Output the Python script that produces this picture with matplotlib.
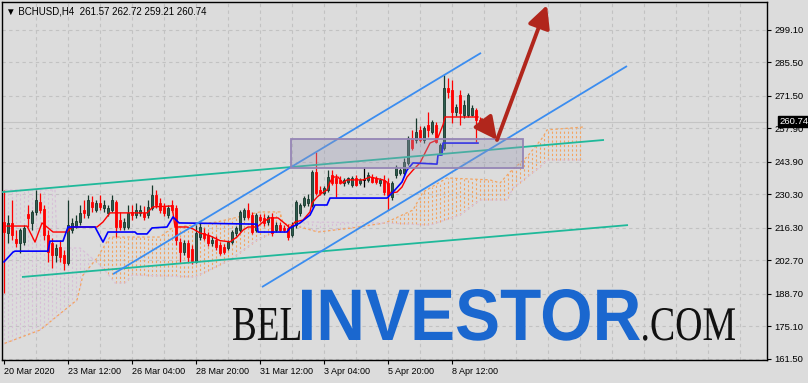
import numpy as np
import matplotlib
matplotlib.use("Agg")
import matplotlib.pyplot as plt
from matplotlib.patches import Rectangle, FancyArrowPatch, PathPatch
from matplotlib.textpath import TextPath
from matplotlib.font_manager import FontProperties
from matplotlib.transforms import Affine2D, IdentityTransform

# ---------------- data (H4 candles, BCHUSD) ----------------
opens = [218.8, 214.2, 218.4, 211.7, 210.0, 210.4, 222.1, 218.4, 223.0, 227.2,
         224.2, 213.3, 210.0, 205.0, 208.3, 205.0, 201.6, 215.4, 217.1, 218.8,
         223.8, 221.7, 227.2, 223.8, 226.7, 224.6, 222.6, 223.8, 227.2, 219.6,
         216.7, 216.7, 223.0, 221.7, 222.6, 222.6, 221.7, 224.6, 230.1, 226.7,
         225.1, 221.7, 225.9, 224.6, 210.4, 206.2, 210.0, 207.5, 202.1, 212.5,
         214.2, 213.3, 210.0, 211.3, 209.2, 208.3, 207.9, 210.4, 214.2, 215.4,
         220.9, 223.8, 221.7, 215.4, 220.9, 220.5, 218.8, 220.9, 215.4, 217.5,
         216.3, 216.3, 213.3, 217.5, 222.6, 225.9, 226.7, 225.9, 239.7, 232.2,
         230.9, 232.2, 238.5, 237.2, 236.4, 235.1, 235.5, 234.3, 237.2, 235.1,
         236.4, 236.4, 237.6, 237.2, 235.1, 236.4, 235.1, 229.2, 238.5, 239.3,
         239.3, 243.5, 253.9, 253.1, 257.3, 253.1, 259.4, 256.4, 259.4, 247.6,
         249.7, 274.8, 274.0, 264.8, 271.9, 263.5, 263.5, 263.5, 265.6, 261.57]
highs = [232.2, 221.7, 228.0, 215.4, 216.3, 217.5, 225.9, 223.8, 232.2, 230.9,
         225.9, 215.4, 212.1, 209.6, 211.3, 207.1, 228.0, 220.5, 221.7, 225.9,
         228.0, 230.1, 229.7, 228.0, 230.1, 228.0, 225.9, 230.1, 228.0, 223.0,
         220.5, 225.9, 225.9, 226.7, 225.9, 225.5, 228.0, 234.3, 232.2, 228.8,
         226.7, 225.9, 228.0, 225.9, 212.1, 211.3, 211.3, 209.2, 217.5, 218.8,
         216.3, 214.6, 212.9, 212.9, 210.4, 209.6, 211.3, 215.4, 217.1, 223.8,
         224.6, 226.7, 223.0, 222.6, 222.1, 222.1, 221.7, 222.6, 218.8, 218.8,
         217.5, 217.9, 218.8, 228.0, 226.7, 229.7, 230.5, 240.5, 248.1, 233.8,
         233.8, 240.5, 240.5, 238.9, 238.0, 237.2, 237.6, 238.0, 238.5, 237.2,
         241.8, 239.7, 238.9, 238.0, 237.2, 238.5, 237.2, 235.9, 242.6, 241.4,
         245.6, 254.7, 257.3, 262.3, 258.9, 258.9, 264.8, 261.5, 260.6, 251.8,
         280.3, 279.0, 278.2, 268.1, 274.0, 269.8, 272.7, 267.7, 266.5, 262.72]
lows = [189.1, 210.0, 211.3, 208.3, 205.8, 209.2, 216.7, 215.4, 221.7, 222.6,
        211.3, 202.1, 199.5, 202.1, 202.1, 198.7, 200.8, 214.2, 216.3, 217.5,
        220.5, 220.5, 223.0, 223.0, 223.8, 223.0, 221.3, 223.0, 212.5, 215.4,
        215.4, 215.9, 219.6, 220.5, 221.3, 219.6, 220.5, 223.8, 224.6, 222.6,
        221.3, 220.5, 223.0, 209.2, 202.1, 205.0, 202.1, 201.2, 201.6, 211.3,
        211.3, 208.8, 208.8, 207.1, 205.0, 205.4, 207.1, 209.6, 212.9, 214.6,
        219.6, 220.0, 213.8, 214.6, 218.8, 217.1, 217.5, 212.9, 214.6, 214.6,
        214.6, 211.3, 212.5, 216.3, 221.3, 225.1, 225.5, 225.1, 230.1, 230.1,
        230.1, 231.3, 234.3, 229.2, 234.7, 233.8, 234.7, 233.4, 233.8, 234.3,
        233.4, 235.5, 235.1, 234.7, 233.8, 230.1, 223.8, 228.0, 237.2, 238.5,
        238.5, 242.6, 248.9, 251.8, 252.2, 251.8, 254.3, 255.6, 251.8, 246.8,
        248.9, 270.6, 260.2, 263.1, 259.4, 262.3, 262.7, 263.1, 252.2, 259.21]
closes = [214.6, 218.4, 213.3, 210.0, 215.4, 216.3, 220.5, 223.0, 228.0, 223.8,
          213.3, 206.2, 205.0, 207.9, 204.2, 201.6, 217.5, 218.4, 219.2, 222.6,
          222.6, 228.0, 225.1, 226.7, 225.1, 225.9, 224.6, 228.0, 216.7, 216.7,
          218.8, 222.6, 221.7, 223.8, 223.8, 220.9, 225.1, 230.1, 225.9, 223.8,
          222.6, 224.6, 223.8, 211.3, 206.2, 210.0, 204.2, 202.5, 214.2, 216.7,
          212.1, 210.0, 211.3, 208.3, 205.8, 206.2, 210.4, 214.6, 216.3, 223.0,
          223.8, 220.9, 214.6, 221.7, 219.6, 218.4, 220.9, 214.2, 217.5, 215.4,
          215.4, 212.5, 217.5, 227.2, 225.9, 228.8, 228.4, 239.7, 230.9, 230.9,
          233.0, 237.6, 235.1, 235.1, 235.1, 236.4, 237.2, 237.2, 234.3, 236.4,
          236.4, 238.5, 235.5, 235.5, 236.4, 231.3, 230.1, 235.1, 241.8, 240.5,
          243.9, 253.9, 249.7, 256.4, 253.1, 258.1, 257.3, 260.6, 252.2, 251.0,
          274.8, 273.2, 264.8, 266.9, 264.4, 267.7, 271.9, 266.5, 261.5, 260.74]

# Ichimoku lines: (bar index, price)
tenkan_x = [0.75, 5.75, 7.75, 9.5, 10.75, 12.25, 15.75, 17, 23.25, 24.75, 26.5, 35.75, 37.25, 42,
            42.75, 45.75, 47.25, 49, 51.5, 54, 56.5, 58.25, 59.75, 61, 63.25, 64.75, 66.5, 68.5,
            69.75, 71.5, 72.75, 74.75, 76.5, 77, 78.25, 79.5, 80.75, 81.5, 82.25, 83.5, 84.75,
            85.75, 89.75, 91.5, 94.75, 95.75, 96.5, 98.25, 99.5, 100.75, 102.25, 104, 106.5,
            108.25, 109.75, 110.25, 118.5]
tenkan_y = [217.1, 217.1, 210.4, 218.4, 216.7, 214.6, 214.6, 216.7, 216.7, 218.8, 222.6, 222.6, 225.1, 225.5,
            216.7, 216.7, 215.9, 214.2, 213.0, 211.0, 210.5, 212.5, 215.4, 216.7, 216.7, 218.8, 220.5, 220.5,
            218.8, 216.3, 218.8, 219.6, 223.0, 226.7, 229.2, 230.9, 232.2, 235.5, 237.6, 237.6, 235.1,
            236.4, 236.4, 237.6, 236.4, 235.5, 230.9, 231.3, 233.4, 237.6, 240.5, 243.5, 251.8,
            253.1, 259.4, 262.7, 262.7]
kijun_x = [0, 2.25, 2.75, 11, 11.5, 14.75, 16, 22.75, 24.75, 26, 32.75, 33.25, 35.75, 37, 40.75, 42.25,
           43.75, 63.25, 63.5, 70.75, 71.5, 74, 76.5, 77.75, 80.75, 81.5, 95.75, 97.25, 99.5, 100.75,
           102.25, 108.25, 108.5, 109.5, 109.75, 118.5]
kijun_y = [202.1, 206.2, 206.6, 206.6, 210.8, 210.8, 216.7, 216.7, 210.4, 214.6, 214.6, 213.8, 213.8, 216.3,
           216.7, 220.9, 218.4, 217.9, 214.6, 214.6, 216.3, 218.4, 221.7, 225.9, 225.9, 228.8, 228.8, 231.3,
           235.5, 240.5, 243.5, 243.0, 246.8, 246.8, 251.8, 251.8]
span_a_x = [-1, 9, 18.25, 19.75, 23.25, 25.25, 26.5, 39, 42, 47, 53.25, 64, 69, 69.75, 74, 78.5, 87,
            95.25, 102.25, 104.75, 110.75, 121.5, 124, 126.5, 130.75, 134.75, 135.75, 144.75]
span_a_y = [167.3, 173.6, 186.2, 196.6, 203.7, 209.2, 212.5, 212.5, 216.3, 217.5, 218.8, 223.0, 223.0,
            218.4, 216.7, 214.6, 216.3, 218.4, 223.8, 231.3, 237.2, 236.4, 235.1, 239.7, 246.0, 254.3,
            257.3, 258.5]
span_b_x = [-1, 12.75, 13.25, 19, 24, 25.75, 27.75, 30.25, 32, 47.75, 56.5, 63.25, 71.5, 75.25, 95.25,
            106.5, 114, 119, 125.75, 127.25, 131.5, 134, 135.75, 144.75]
span_b_y = [232.2, 232.2, 207.9, 207.9, 200.8, 197.5, 193.3, 193.3, 196.6, 195.8, 202.9, 211.3, 217.5,
            218.8, 218.4, 217.5, 221.7, 228.0, 228.0, 233.0, 238.5, 241.8, 244.7, 244.7]

# drawn objects (bar index, price)
teal_upper = [(-0.5, 231.3), (150.0, 253.1)]
teal_lower = [(4.5, 195.8), (156.0, 217.5)]
blue_upper = [(27.25, 197.0), (119.25, 289.5)]
blue_lower = [(64.5, 191.6), (155.75, 284.0)]
zone = [(71.75, 241.4), (129.75, 253.5)]
arrow_down = [(119.5, 261.4), (123.25, 253.1)]
arrow_up = [(123.25, 253.1), (135.75, 309.5)]

price_ticks = [299.10, 285.50, 271.50, 257.90, 243.90, 230.30, 216.30, 202.70, 188.70, 175.10, 161.50]
time_tick_bars = [0, 16, 32, 48, 64, 80, 96, 112]
time_labels = ["20 Mar 2020", "23 Mar 12:00", "26 Mar 04:00", "28 Mar 20:00",
               "31 Mar 12:00", "3 Apr 04:00", "5 Apr 20:00", "8 Apr 12:00"]
last_price = 260.74
header = "\u25BC BCHUSD,H4  261.57 262.72 259.21 260.74"

# ---------------- figure ----------------
W, H = 808, 383
BG = "#dcdcdc"
fig = plt.figure(figsize=(W / 100, H / 100), dpi=100, facecolor=BG)
ax = fig.add_axes([2 / W, 23 / H, 765 / W, 358 / H])
ax.set_facecolor(BG)
ax.set_xlim(-0.5, 190.75)
ax.set_ylim(161.08, 310.79)

sans = ["Liberation Sans", "DejaVu Sans"]

# grid
for p in price_ticks:
    ax.axhline(p, color="#c2c2c2", lw=0.8, ls=(0, (3, 3)), zorder=0)
for b in range(8, 191, 8):
    ax.axvline(b, color="#c2c2c2", lw=0.8, ls=(0, (3, 3)), zorder=0)

# cloud hatching
bars_c = np.arange(int(np.ceil(min(span_a_x[0], span_b_x[0]))), int(span_a_x[-1]) + 1)
a_i = np.interp(bars_c, span_a_x, span_a_y)
b_i = np.interp(bars_c, span_b_x, span_b_y)
for xb, av, bv in zip(bars_c, a_i, b_i):
    col = "#f4a460" if av >= bv else "#d8bfd8"
    ax.plot([xb, xb], [min(av, bv), max(av, bv)], color=col, lw=0.8, ls=(0, (2, 2)), zorder=1)
ax.plot(span_a_x, span_a_y, color="#f4a460", lw=0.9, ls=(0, (2, 2)), zorder=1)
ax.plot(span_b_x, span_b_y, color="#d8bfd8", lw=0.9, ls=(0, (2, 2)), zorder=1)

# candles
bull_col, bear_col, bull_edge = "#2f5c4e", "#ff0000", "#17382c"
for i, (o, h, l, c) in enumerate(zip(opens, highs, lows, closes)):
    if c > o:
        col, ec = bull_col, bull_edge
    elif c < o:
        col, ec = bear_col, bear_col
    else:
        col, ec = "#000000", "#000000"
    ax.vlines(i, l, h, color=ec, lw=0.9, zorder=3)
    ax.bar(i, max(abs(c - o), 0.35), bottom=min(o, c), width=0.62, color=col,
           edgecolor=ec, linewidth=0.6, zorder=4)

# tenkan / kijun
ax.plot(tenkan_x, tenkan_y, color="#ff0000", lw=1.0, zorder=5)
ax.plot(kijun_x, kijun_y, color="#0000ff", lw=1.2, zorder=5)

# trend lines
for seg, col in [(teal_upper, "#1fb99a"), (teal_lower, "#1fb99a"),
                 (blue_upper, "#3b8df0"), (blue_lower, "#3b8df0")]:
    ax.plot([seg[0][0], seg[1][0]], [seg[0][1], seg[1][1]], color=col, lw=1.3, zorder=6,
            solid_capstyle="butt")

# bid line
ax.axhline(last_price, color="#c4c4c4", lw=0.8, zorder=2)

# zone rectangle (on top)
(x0, y0), (x1, y1) = zone
ax.add_patch(Rectangle((x0, y0), x1 - x0, y1 - y0, facecolor=(0.6, 0.6, 0.7, 0.35),
                       edgecolor="#9585b5", lw=1.3, zorder=7))

# arrows
for seg in (arrow_down, arrow_up):
    ax.add_patch(FancyArrowPatch(seg[0], seg[1], arrowstyle="-|>,head_length=0.9,head_width=0.45",
                                 mutation_scale=15, color="#b1261c", lw=2.8, zorder=8,
                                 shrinkA=0, shrinkB=0))

# axes styling
for s in ["top", "left", "right", "bottom"]:
    ax.spines[s].set_color("black")
    ax.spines[s].set_linewidth(1.0)
ax.yaxis.tick_right()
ax.set_yticks(price_ticks)
ax.set_yticklabels([f"{p:.2f}" for p in price_ticks], fontsize=6.8, family=sans)
ax.tick_params(axis="y", direction="out", length=3, width=0.8, pad=2.5, colors="black")
ax.set_xticks(time_tick_bars)
ax.set_xticklabels(time_labels, fontsize=6.5, family=sans)
ax.tick_params(axis="x", direction="out", length=3, width=0.8, pad=2, colors="black")
for lbl in ax.get_xticklabels():
    lbl.set_horizontalalignment("left")

# current price box
ax.text(1.016, last_price, f"{last_price:.2f}", transform=ax.get_yaxis_transform(),
        fontsize=6.8, family=sans, color="white", va="center", ha="left", zorder=10,
        bbox=dict(boxstyle="square,pad=0.12", facecolor="black", edgecolor="black"), clip_on=False)

# header
ax.text(4 / 765, 1 - 10 / 358, header, transform=ax.transAxes,
        fontsize=7, family=sans, color="black", va="center", ha="left", zorder=10)


# watermark: words fitted into their boxes (left, right, baseline, top in pixels from top-left)
def fitted_word(word, family, weight, color, left, right, baseline, top):
    tp = TextPath((0, 0), word, size=50, prop=FontProperties(family=family, weight=weight))
    ext = tp.get_extents()
    sx = (right - left) / ext.width
    sy = (baseline - top) / ext.y1
    tr = Affine2D().translate(-ext.x0, 0).scale(sx, sy).translate(left, H - baseline)
    fig.add_artist(PathPatch(tr.transform_path(tp), facecolor=color, edgecolor="none",
                             transform=IdentityTransform(), zorder=20))


fitted_word("BEL", "Liberation Serif", "normal", "#111111", 233, 300, 340, 308)
fitted_word("INVESTOR", "Liberation Sans", "bold", "#1a67cf", 302, 640, 340, 289)
fitted_word(".COM", "Liberation Serif", "normal", "#111111", 643, 735, 340, 308)

fig.savefig("out.png", dpi=100, facecolor=BG)
